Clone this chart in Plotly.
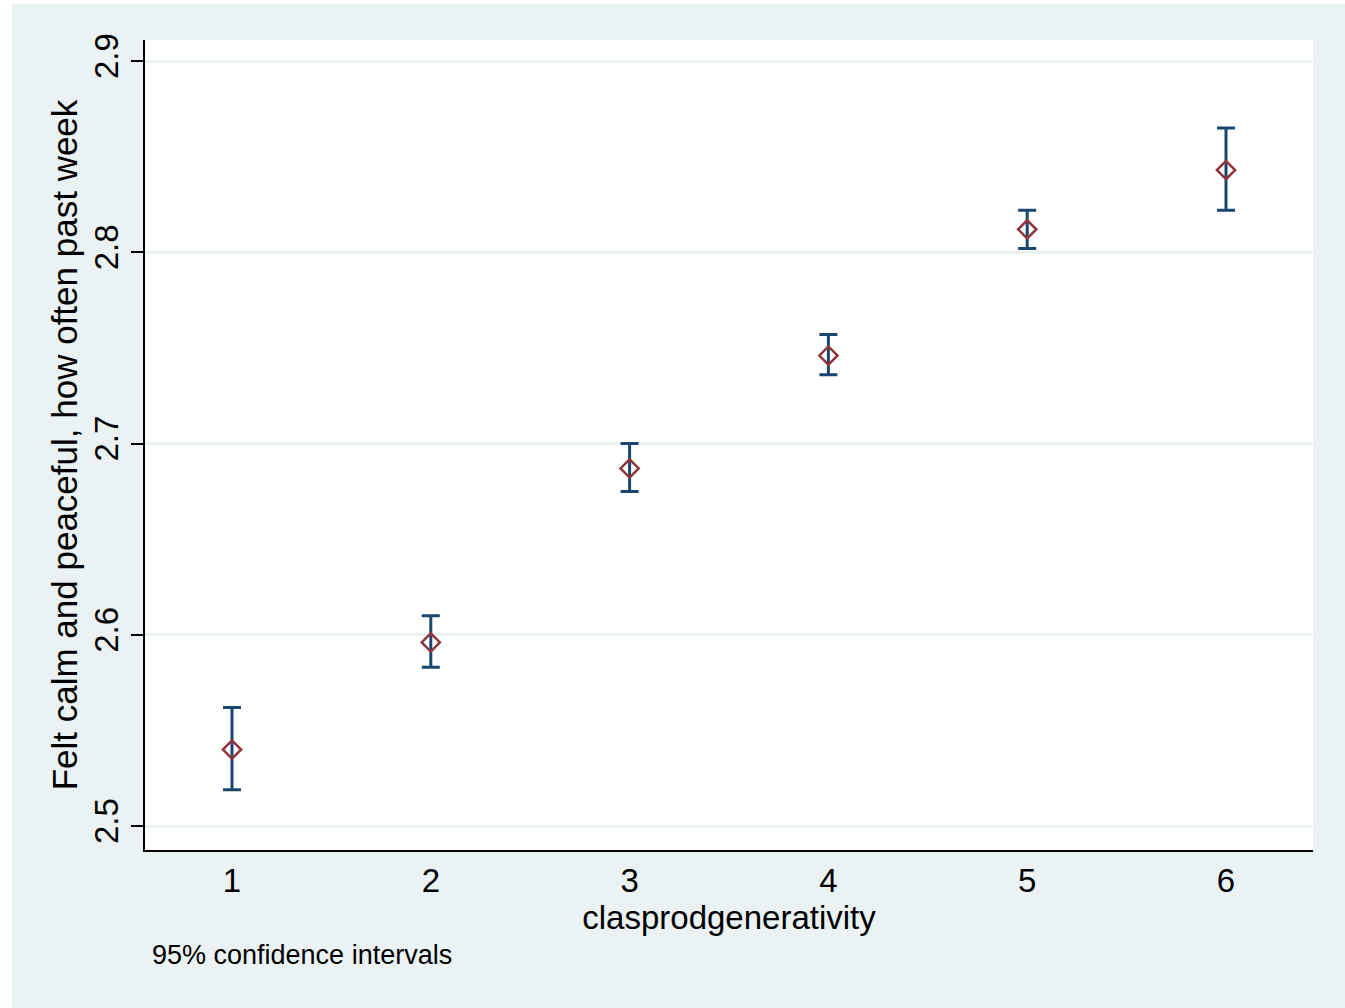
import plotly.graph_objects as go

# Data
categories = [1, 2, 3, 4, 5, 6]
means = [2.540, 2.596, 2.687, 2.746, 2.812, 2.843]
ci_upper = [2.562, 2.610, 2.700, 2.757, 2.822, 2.865]
ci_lower = [2.519, 2.583, 2.675, 2.736, 2.802, 2.822]
y_ticks = [2.5, 2.6, 2.7, 2.8, 2.9]
x_ticks = [1, 2, 3, 4, 5, 6]

BG = "#eaf2f3"
NAVY = "#1a476f"
MAROON = "#90353b"
FONT = "Liberation Sans, Arial, sans-serif"

err_plus = [u - m for u, m in zip(ci_upper, means)]
err_minus = [m - l for m, l in zip(means, ci_lower)]

fig = go.Figure()
fig.add_trace(go.Scatter(
    x=categories, y=means, mode="markers",
    marker=dict(symbol="diamond-open", size=14, color=MAROON, line=dict(width=2.5, color=MAROON)),
    error_y=dict(type="data", symmetric=False, array=err_plus, arrayminus=err_minus,
                 color=NAVY, thickness=3, width=9),
    showlegend=False, hoverinfo="x+y",
))

W, H = 1345, 1008
L, R, T, B = 145, 32, 40, 158
pw, ph = W - L - R, H - T - B

fig.update_layout(
    width=W, height=H,
    margin=dict(l=L, r=R, t=T, b=B, pad=0),
    paper_bgcolor=BG, plot_bgcolor="white",
    font=dict(family=FONT, color="black", size=33),
    xaxis=dict(range=[0.5624, 6.4376], tickvals=x_ticks, ticktext=[str(v) for v in x_ticks],
               showgrid=False, zeroline=False, showline=True, linecolor="black", linewidth=2,
               ticks="", ticklen=0, tickfont=dict(size=33),
               title=dict(text="clasprodgenerativity", font=dict(size=33), standoff=0)),
    yaxis=dict(range=[2.4875, 2.911], tickvals=y_ticks, ticktext=[f"{v:.1f}" for v in y_ticks],
               showgrid=True, gridcolor=BG, gridwidth=3, zeroline=False,
               showline=True, linecolor="black", linewidth=2,
               ticks="outside", ticklen=12, tickwidth=2, tickcolor="black",
               tickangle=-90, tickfont=dict(size=33),
               title=dict(text="Felt calm and peaceful, how often past week", font=dict(size=35), standoff=0)),
    shapes=[
        dict(type="rect", xref="paper", yref="paper",
             x0=-L / pw, x1=-(L - 12) / pw, y0=-B / ph, y1=(ph + T) / ph,
             fillcolor="white", line=dict(width=0), layer="above"),
        dict(type="rect", xref="paper", yref="paper",
             x0=-L / pw, x1=(pw + R) / pw, y0=(ph + T - 4) / ph, y1=(ph + T) / ph,
             fillcolor="white", line=dict(width=0), layer="above"),
    ],
    annotations=[
        dict(text="95% confidence intervals", xref="paper", yref="paper",
             x=(150 - L) / pw, y=-(955 - T - ph) / ph, xanchor="left", yanchor="middle",
             showarrow=False, font=dict(size=27, family=FONT, color="black")),
    ],
)

fig.write_html("out.html")
